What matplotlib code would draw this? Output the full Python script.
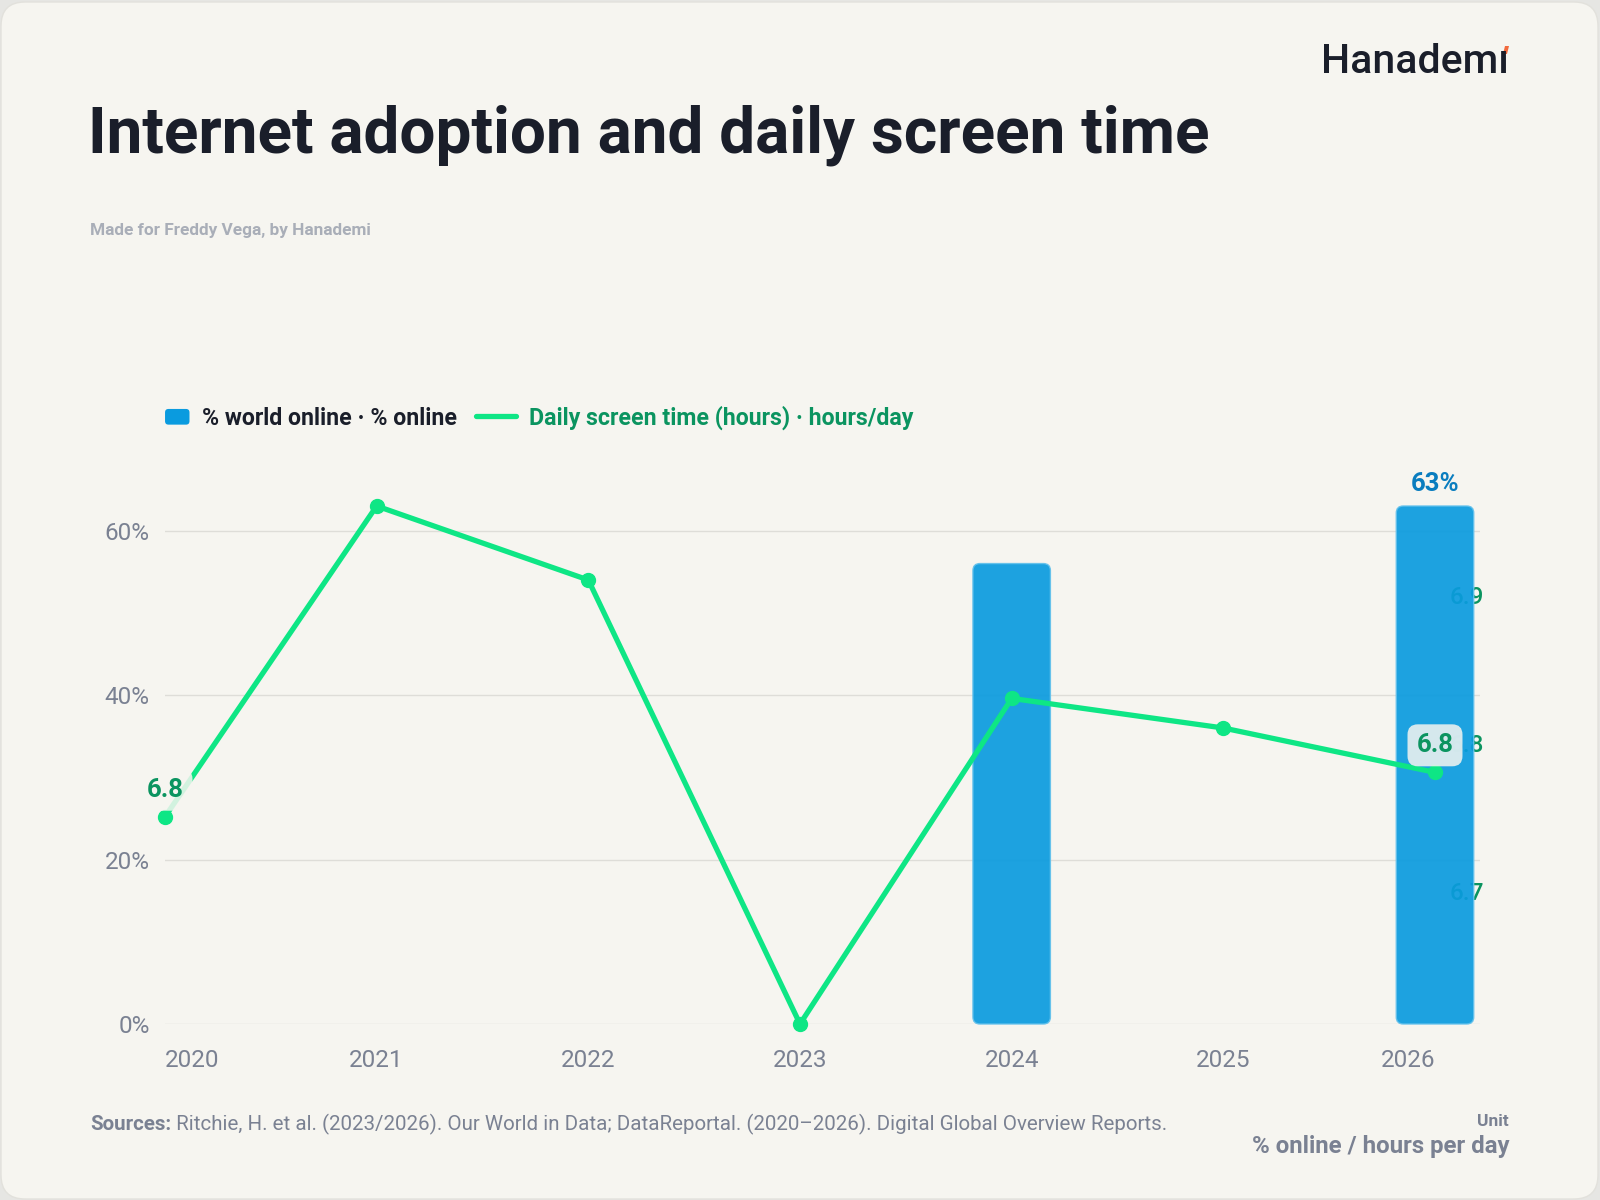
import matplotlib
matplotlib.use("Agg")
import matplotlib.pyplot as plt
from matplotlib.patches import FancyBboxPatch, Patch, Polygon
from matplotlib.lines import Line2D
from matplotlib.legend_handler import HandlerPatch
from matplotlib.transforms import IdentityTransform
from matplotlib.ticker import FuncFormatter, FixedLocator
import numpy as np

# ---------------- data ----------------
years = ["2020", "2021", "2022", "2023", "2024", "2025", "2026"]
pct_online = [np.nan, np.nan, np.nan, np.nan, 56, np.nan, 63]
screen_hours = [6.75, 6.96, 6.91, 6.61, 6.83, 6.81, 6.78]
left_ticks = [0, 20, 40, 60]
right_ticks = [6.7, 6.8, 6.9]

title = "Internet adoption and daily screen time"
subtitle = "Made for Freddy Vega, by Hanademi"
bar_name = "% world online · % online"
line_name = "Daily screen time (hours) · hours/day"
sources_head = "Sources:"
sources_body = " Ritchie, H. et al. (2023/2026). Our World in Data; DataReportal. (2020–2026). Digital Global Overview Reports."
unit_head = "Unit"
unit_body = "% online / hours per day"
brand = "Hanademı"

# ---------------- style ----------------
BG = "#F6F5F0"
OUTER = "#E6E6E3"
BAR = "#0A9BDF"
LINE = "#0EE685"
GREEN_TXT = "#0B9460"
BLUE_TXT = "#0A7DBF"
DARK = "#1A1E2A"
GRAY = "#7A8192"
LIGHTGRAY = "#A9AEB8"
GRID = "#DEDDD8"

FONT = ["Roboto", "DejaVu Sans"]
plt.rcParams["font.family"] = FONT

W, H = 1600, 1200
fig = plt.figure(figsize=(16, 12), dpi=100)
fig.patch.set_facecolor(OUTER)
card = FancyBboxPatch((1, 1), W - 3, H - 3, boxstyle="round,pad=0,rounding_size=24",
                      transform=IdentityTransform(), facecolor=BG, edgecolor="#E2E1DC", lw=1,
                      zorder=-10)
fig.patches.append(card)


def fx(x):
    return x / W


def fy(y):
    return 1 - y / H


# axes geometry (pixels)
L, R, T, B = 165, 1480, 506, 1024
rect = [fx(L), fy(B), (R - L) / W, (B - T) / H]

ax = fig.add_axes(rect)          # bars + left axis
ax2 = ax.twinx()                 # right tick labels (beneath bars)
ax3 = ax.twinx()                 # line (above bars)
ax2.set_zorder(1)
ax.set_zorder(2)
ax3.set_zorder(3)
for a in (ax, ax2, ax3):
    a.patch.set_visible(False)
    for s in a.spines.values():
        s.set_visible(False)

x = np.arange(len(years))
ax.set_xlim(0, 6 + 45 / ((1435 - 165) / 6))
ax.set_ylim(0, np.nanmax(pct_online))
ax3.set_ylim(min(screen_hours), max(screen_hours))
ax2.set_ylim(min(screen_hours), max(screen_hours))

# bars with rounded corners
bars = ax.bar(x, pct_online, width=0.366, color=BAR)
fig.canvas.draw()
px_per_x = ax.transData.transform((1, 0))[0] - ax.transData.transform((0, 0))[0]
px_per_y = ax.transData.transform((0, 1))[1] - ax.transData.transform((0, 0))[1]
for b in list(bars):
    hb = b.get_height()
    xb, yb, wb = b.get_x(), b.get_y(), b.get_width()
    b.set_visible(False)
    if np.isnan(hb):
        continue
    fb = FancyBboxPatch((xb, yb), wb, hb,
                        boxstyle="round,pad=0,rounding_size=%f" % (7 / px_per_x),
                        mutation_aspect=px_per_x / px_per_y,
                        facecolor=BAR, edgecolor="#63C1EC", lw=1.0, alpha=0.92, zorder=2,
                        clip_on=False)
    ax.add_patch(fb)

# last bar label
last_idx = max(i for i, v in enumerate(pct_online) if not np.isnan(v))
ax.annotate(f"{pct_online[last_idx]:.0f}%", (x[last_idx], pct_online[last_idx]),
            xytext=(0, 16), textcoords="offset points", ha="center", va="center",
            fontsize=18.5, fontweight="bold", color=BLUE_TXT, zorder=5)

# left axis
ax.yaxis.set_major_locator(FixedLocator(left_ticks))
ax.yaxis.set_major_formatter(FuncFormatter(lambda v, p: f"{v:.0f}%"))
ax.grid(axis="y", color=GRID, lw=1)
ax.grid(axis="x", visible=False)
ax.set_axisbelow(True)
ax.tick_params(axis="y", length=0, pad=11, labelsize=17.5, labelcolor=GRAY)
ax.set_xticks(x)
ax.set_xticklabels(years)
ax.tick_params(axis="x", length=0, pad=18, labelsize=17.5, labelcolor=GRAY)
xt = ax.get_xticklabels()
xt[0].set_ha("left")
xt[-1].set_ha("right")

# right axis tick labels (under bars)
ax2.yaxis.set_major_locator(FixedLocator(right_ticks))
ax2.yaxis.set_major_formatter(FuncFormatter(lambda v, p: f"{v:.1f}"))
ax2.tick_params(axis="y", length=0, pad=-22, labelsize=17.5, labelcolor=GREEN_TXT)
for t in ax2.get_yticklabels():
    t.set_fontweight("medium")
ax3.set_yticks([])

# line
ax3.plot(x, screen_hours, color=LINE, lw=3.8, marker="o", markersize=10,
         solid_capstyle="round", zorder=3, clip_on=False)
for i in (0, len(years) - 1):
    ax3.annotate(f"{screen_hours[i]:.1f}", (x[i], screen_hours[i]),
                 xytext=(0, 19.5), textcoords="offset points", ha="center", va="center",
                 fontsize=18.5, fontweight="bold", color=GREEN_TXT, zorder=6,
                 bbox=dict(boxstyle="round,pad=0.35,rounding_size=0.4", fc=BG,
                           ec="none", alpha=0.85))

# legend
LEG_FS = 16.7
SQ_W, SQ_H = 17.6, 11.3  # points


def square_patch(legend, orig_handle, xdescent, ydescent, width, height, fontsize):
    return FancyBboxPatch((-xdescent + width - SQ_W, -ydescent + (height - SQ_H) / 2),
                          SQ_W, SQ_H, boxstyle="round,pad=0,rounding_size=2.5")


handles = [Patch(facecolor=BAR, edgecolor="none", label=bar_name),
           Line2D([0], [0], color=LINE, lw=3.8, solid_capstyle="round", label=line_name)]
leg = ax3.legend(handles=handles, ncol=2, frameon=False, loc="center left",
                 bbox_to_anchor=(-0.0118, 1 + (782 - (H - T)) / (B - T)),
                 prop=dict(size=LEG_FS, weight="bold"),
                 handlelength=28.8 / LEG_FS, handleheight=0.8, handletextpad=0.55,
                 columnspacing=0.81, borderaxespad=0, borderpad=0,
                 handler_map={Patch: HandlerPatch(patch_func=square_patch)})
leg.get_texts()[0].set_color(DARK)
leg.get_texts()[1].set_color(GREEN_TXT)

# ---------------- texts ----------------
fig.text(fx(88), fy(153), title, fontsize=46, fontweight="bold", color=DARK,
         va="baseline", ha="left")
fig.text(fx(90), fy(231), subtitle, fontsize=12.4, fontweight="bold", color=LIGHTGRAY,
         va="center", ha="left")
bt = fig.text(fx(1509), fy(62), brand, fontsize=29.5, color=DARK, va="center", ha="right",
              fontweight="medium")

sh = fig.text(fx(90), fy(1124), sources_head, fontsize=14.8, fontweight="bold", color=GRAY,
              va="center", ha="left")
fig.canvas.draw()
r = fig.canvas.get_renderer()
ext = sh.get_window_extent(r)
fig.text(ext.x1 / W, fy(1124), sources_body, fontsize=14.8, color=GRAY,
         va="center", ha="left")
fig.text(fx(1509), fy(1122), unit_head, fontsize=12.5, fontweight="bold", color=GRAY,
         va="center", ha="right")
fig.text(fx(1509), fy(1147), unit_body, fontsize=17.3, fontweight="bold", color=GRAY,
         va="center", ha="right")

# brand accent on the i
be = bt.get_window_extent(r)
ax_ = be.x1 - 6
ay_ = be.y1 - 11
fig.patches.append(Polygon([(ax_, ay_), (ax_ + 4, ay_), (ax_ + 6, ay_ + 8), (ax_ + 2, ay_ + 8)],
                           closed=True, transform=IdentityTransform(),
                           facecolor="#F26A3D", edgecolor="none"))

fig.savefig("out.png", dpi=100, facecolor=fig.get_facecolor())
